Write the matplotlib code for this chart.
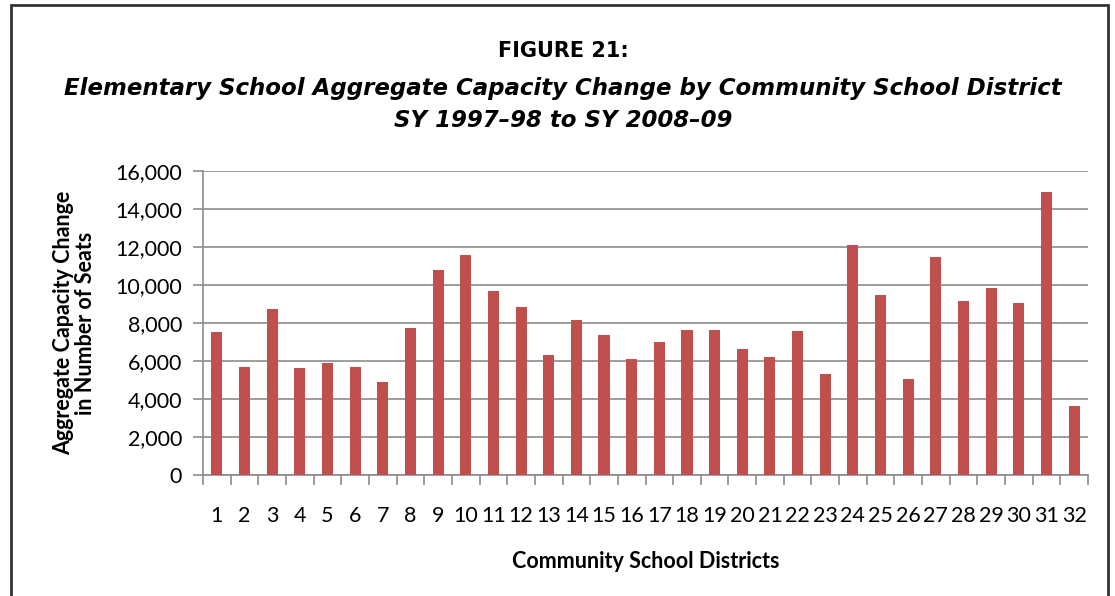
import matplotlib.pyplot as plt
from matplotlib.patches import Rectangle
from matplotlib.ticker import FuncFormatter, MultipleLocator

districts = list(range(1, 33))
capacity_change = [7530, 5670, 8750, 5610, 5880, 5670, 4910, 7740, 10810, 11600,
                   9670, 8860, 6330, 8140, 7370, 6090, 6980, 7610, 7650, 6610,
                   6190, 7600, 5320, 12100, 9490, 5040, 11490, 9160, 9860, 9050,
                   14910, 3650]

bar_color = '#C0504D'
grid_color = '#8c8c8c'
label_font = 'Lato'

fig = plt.figure(figsize=(11.15, 5.96), dpi=100)

# outer frame around the figure
fig.patches.append(Rectangle((11 / 1115, -0.05), (1108 - 11) / 1115, 1.05 - 5 / 596,
                             transform=fig.transFigure, fill=False,
                             edgecolor='#333333', linewidth=2))

fig.text(0.505, 0.915, 'FIGURE 21:', ha='center', va='center',
         fontsize=15, fontweight='bold', family='DejaVu Sans')
fig.text(0.505, 0.852, 'Elementary School Aggregate Capacity Change by Community School District',
         ha='center', va='center', fontsize=16.5, fontweight='heavy', style='italic',
         family='DejaVu Sans')
fig.text(0.505, 0.797, 'SY 1997\u201398 to SY 2008\u201309',
         ha='center', va='center', fontsize=16.5, fontweight='heavy', style='italic',
         family='DejaVu Sans')

ax = fig.add_axes([203 / 1115, (596 - 475) / 596, (1088 - 203) / 1115, (475 - 171) / 596])
x = list(range(len(districts)))
ax.bar(x, capacity_change, width=0.4, color=bar_color, zorder=3)

ax.set_xlim(-0.5, len(districts) - 0.5)
ax.set_ylim(0, 16000)
ax.yaxis.set_major_locator(MultipleLocator(2000))
ax.yaxis.set_major_formatter(FuncFormatter(lambda v, p: f'{int(v):,}'))
ax.grid(axis='y', color=grid_color, linewidth=1.2, zorder=0)

ax.set_xticks(x)
ax.set_xticklabels([str(d) for d in districts], fontsize=15.5, family=label_font)
ax.set_xticks([i - 0.5 for i in range(len(districts) + 1)], minor=True)
ax.tick_params(axis='x', which='major', length=0, pad=22)
ax.tick_params(axis='x', which='minor', length=7, width=1.2, color=grid_color)
ax.tick_params(axis='y', length=7, width=1.2, color=grid_color, labelsize=15.5, pad=8)
for lbl in ax.get_yticklabels():
    lbl.set_family(label_font)

for side in ['top', 'right']:
    ax.spines[side].set_visible(False)
for side in ['left', 'bottom']:
    ax.spines[side].set_color(grid_color)
    ax.spines[side].set_linewidth(1.2)

ax.set_ylabel('Aggregate Capacity Change\nin Number of Seats', fontsize=15.5,
              fontweight='bold', family=label_font, labelpad=14, linespacing=1.05)
ax.set_xlabel('Community School Districts', fontsize=15.5, fontweight='bold',
              family=label_font, labelpad=18)

fig.savefig('out.png', dpi=100)
